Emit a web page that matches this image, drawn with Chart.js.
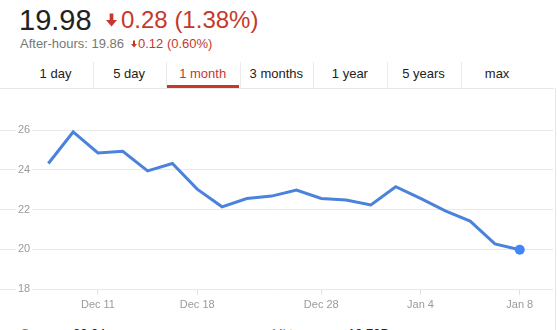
<!DOCTYPE html>
<html>
<head>
<meta charset="utf-8">
<script src="https://cdn.jsdelivr.net/npm/chart.js@4/dist/chart.umd.min.js"></script>
<style>
  html, body { margin: 0; padding: 0; background: #fff; }
  body { width: 557px; height: 330px; overflow: hidden; position: relative; font-family: Arial, "Liberation Sans", sans-serif; }
  .price { position: absolute; left: 19px; top: 2px; font-size: 29px; color: #222; line-height: 36px; white-space: nowrap; }
  .change { color: #c5392c; font-size: 24px; position: absolute; left: 87px; top: 0; }
  .arrow { display: inline-block; vertical-align: middle; margin-right: 4px; position: relative; top: -2px; }
  .after { position: absolute; left: 20px; top: 36px; font-size: 13px; color: #777; white-space: nowrap; }
  .after .red { color: #c5392c; position: absolute; left: 111px; top: 0; }
  .tabs { position: absolute; left: 19px; top: 62px; height: 26px; width: 534px; }
  .tab { position: absolute; top: 0; height: 26px; width: 73px; text-align: center; font-size: 13px; color: #222; line-height: 23px; }
  .sep { position: absolute; top: 0; width: 1px; height: 26px; background: #ebebeb; }
  .tab.active { color: #c5392c; border-bottom: 3px solid #c5392c; height: 23px; }
  .rule { position: absolute; left: 0; top: 88px; width: 554px; height: 1px; background: #e6e6e6; }
  .edge { position: absolute; left: 555px; top: 88px; width: 1px; height: 242px; background: #e6e6e6; }
  #wrap { position: absolute; left: 0; top: 100px; width: 553px; height: 215px; }
  .stats { position: absolute; top: 326px; font-size: 13px; color: #222; white-space: nowrap; }
  .stats b { font-weight: normal; color: #777; display: inline-block; width: 53px; }
</style>
</head>
<body>
<div class="price">19.98<span class="change"><svg class="arrow" width="11" height="14" viewBox="0 0 12 14"><path d="M4 0h4v7h4L6 14 0 7h4z" fill="#c5392c"/></svg>0.28 (1.38%)</span></div>
<div class="after">After-hours: 19.86<span class="red"><svg width="6" height="8" viewBox="0 0 12 14" style="margin-right:1px"><path d="M4 0h4v7h4L6 14 0 7h4z" fill="#c5392c"/></svg>0.12 (0.60%)</span></div>
<div class="tabs" id="tabs"></div>
<div class="rule"></div>
<div class="edge"></div>
<div id="wrap"><canvas id="chart"></canvas></div>
<div class="stats" style="left:20px"><b>Open</b>20.24</div>
<div class="stats" style="left:272px"><b style="width:76px">Mkt cap</b>19.70B</div>
<script>
// rango seleccionado en las pestañas
const tabNames = ['1 day', '5 day', '1 month', '3 months', '1 year', '5 years', 'max'];
const activeTab = '1 month';

// precios de cierre
const prices = [24.32, 25.91, 24.85, 24.94, 23.95, 24.32, 23.03, 22.14, 22.56, 22.68,
                22.98, 22.56, 22.48, 22.23, 23.15, 22.56, 21.94, 21.42, 20.27, 19.98];

// etiquetas del eje X y en que punto caen
const tickLabels = ['Dec 11', 'Dec 18', 'Dec 28', 'Jan 4', 'Jan 8'];
const tickPositions = [2, 6, 11, 15, 19];

// marcas del eje Y
const yTicks = [18, 20, 22, 24, 26];

// pestañas
const tabsEl = document.getElementById('tabs');
tabNames.forEach((name, i) => {
    const t = document.createElement('div');
    t.className = 'tab' + (name === activeTab ? ' active' : '');
    t.style.left = (i * 73.6) + 'px';
    t.textContent = name;
    tabsEl.appendChild(t);
    if (i > 0) {
        const s = document.createElement('div');
        s.className = 'sep';
        s.style.left = (i * 73.6) + 'px';
        tabsEl.appendChild(s);
    }
});

const points = prices.map((v, i) => ({ x: i, y: v }));
const lastIndex = prices.length - 1;

new Chart(document.getElementById('chart'), {
    type: 'line',
    data: {
        datasets: [{
            data: points,
            borderColor: '#4a82dc',
            borderWidth: 3,
            backgroundColor: '#4285f4',
            pointRadius: ctx => ctx.dataIndex === lastIndex ? 5 : 0,
            pointBorderWidth: 0,
            pointBackgroundColor: '#4285f4',
            tension: 0,
            fill: false,
            clip: false
        }]
    },
    options: {
        responsive: true,
        maintainAspectRatio: false,
        animation: false,
        layout: { padding: 0, autoPadding: false },
        plugins: { legend: { display: false }, tooltip: { enabled: false } },
        scales: {
            x: {
                type: 'linear',
                bounds: 'data',
                min: -1.948,
                max: 20.34,
                afterBuildTicks: scale => { scale.ticks = tickPositions.map(v => ({ value: v })); },
                afterFit: scale => {
                    scale.height = 26;
                    scale.paddingLeft = 0;
                    scale.paddingRight = 0;
                },
                ticks: {
                    autoSkip: false,
                    maxRotation: 0,
                    padding: 3,
                    color: '#9a9a9a',
                    font: { family: 'Arial, "Liberation Sans"', size: 11 },
                    callback: value => {
                        const k = tickPositions.indexOf(value);
                        return k >= 0 ? tickLabels[k] : '';
                    }
                },
                grid: { drawOnChartArea: false, drawTicks: true, tickLength: 6, color: '#e3e3e3' },
                border: { display: false }
            },
            y: {
                bounds: 'data',
                min: 18,
                max: 27.52,
                afterBuildTicks: scale => { scale.ticks = yTicks.map(v => ({ value: v })); },
                afterFit: scale => {
                    scale.width = 0;
                    scale.paddingTop = 0;
                    scale.paddingBottom = 0;
                },
                ticks: {
                    mirror: true,
                    padding: 18,
                    color: '#9a9a9a',
                    font: { family: 'Arial, "Liberation Sans"', size: 11 },
                    showLabelBackdrop: true,
                    backdropColor: '#ffffff',
                    backdropPadding: { left: 2, right: 2, top: 0, bottom: 0 }
                },
                grid: { color: '#e8e8e8', drawTicks: false },
                border: { display: false }
            }
        }
    }
});
</script>
</body>
</html>
